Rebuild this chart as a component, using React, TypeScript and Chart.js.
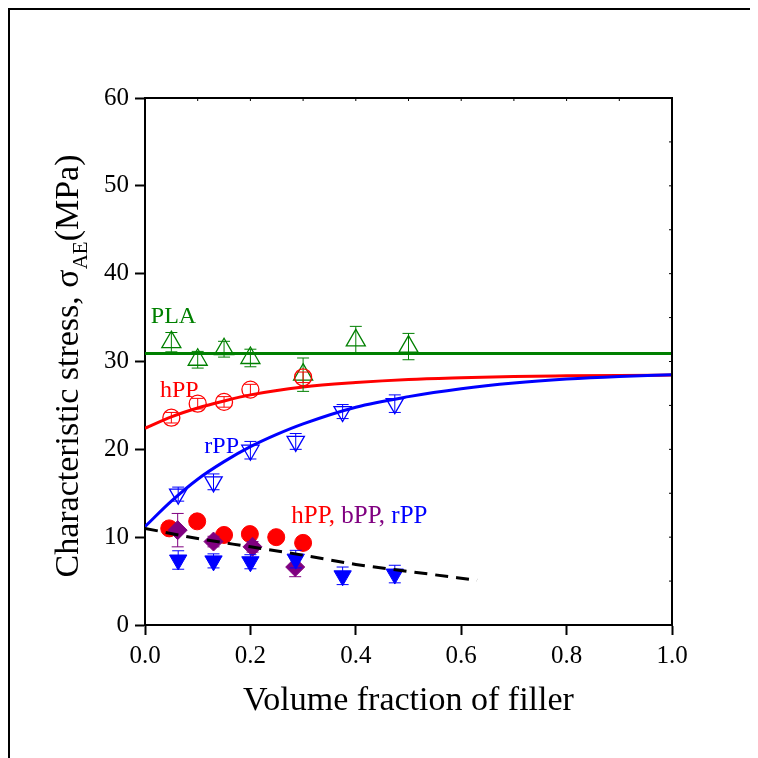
import React, { useEffect, useRef } from "react";
import { Chart, registerables } from "chart.js";
Chart.register(...registerables);

const FONT = "'Liberation Serif', 'Times New Roman', serif";

// PLA (open up-triangles)
const plaX = [0.05, 0.1, 0.15, 0.2, 0.3, 0.4, 0.5];
const plaY = [32.2, 30.2, 31.4, 30.4, 28.5, 32.4, 31.7];
const plaErr = [1.1, 0.95, 0.9, 1.0, 1.9, 1.6, 1.5];

// hPP (open circles)
const hppOpenX = [0.05, 0.1, 0.15, 0.2, 0.3];
const hppOpenY = [23.6, 25.2, 25.4, 26.8, 28.2];
const hppOpenErr = [0.6, 0.6, 0.6, 0.6, 0.6];

// rPP (open down-triangles)
const rppX = [0.063, 0.13, 0.2, 0.286, 0.375, 0.474];
const rppOpenY = [14.9, 16.3, 19.9, 20.9, 24.3, 25.2];
const rppOpenErr = [0.8, 0.9, 1.0, 0.9, 0.8, 1.0];

// filled series
const hppFillX = [0.046, 0.099, 0.15, 0.199, 0.249, 0.3];
const hppFillY = [11.0, 11.8, 10.25, 10.35, 10.0, 9.35];

const bppX = [0.062, 0.13, 0.204, 0.285];
const bppY = [10.8, 9.5, 8.9, 6.6];
const bppErr = [1.9, 0.6, 0.6, 1.1];

const rppFillY = [7.4, 7.3, 7.2, 7.5, 5.6, 5.8];
const rppFillErr = [1.05, 0.8, 0.8, 1.0, 1.0, 1.0];

// fitted curves
const plaFitX = [0, 1];
const plaFitY = [30.9, 30.9];

const hppFitX = [0, 0.05, 0.1, 0.15, 0.2, 0.3, 0.4, 0.5, 0.6, 0.7, 0.8, 0.9, 1.0];
const hppFitY = [22.4, 23.7, 24.7, 25.5, 26.2, 27.1, 27.6, 27.95, 28.15, 28.3, 28.37, 28.42, 28.45];

const rppFitX = [0, 0.05, 0.1, 0.15, 0.2, 0.25, 0.3, 0.4, 0.5, 0.6, 0.7, 0.8, 0.9, 1.0];
const rppFitY = [11.2, 14.1, 16.6, 18.6, 20.3, 21.7, 22.9, 24.8, 26.0, 26.9, 27.55, 28.0, 28.3, 28.5];

const dashX = [0, 0.1, 0.2, 0.3, 0.4, 0.5, 0.63];
const dashY = [11.0, 9.85, 8.9, 7.95, 6.9, 6.1, 5.1];

const xTicks = [0, 0.2, 0.4, 0.6, 0.8, 1.0];
const yTicks = [0, 10, 20, 30, 40, 50, 60];

const GREEN = "#008000";
const RED = "#ff0000";
const BLUE = "#0000ff";
const PURPLE = "#800080";

const pts = (xs: number[], ys: number[]) => xs.map((x, i) => ({ x, y: ys[i] }));

const errorBarPlugin = {
  id: "errbars",
  afterDatasetDraw(chart: any, args: any) {
    const ds: any = chart.data.datasets[args.index];
    if (!ds.errors) return;
    const ctx = chart.ctx;
    const ys = chart.scales.y;
    ctx.save();
    ctx.strokeStyle = ds.errColor;
    ctx.lineWidth = 1;
    args.meta.data.forEach((el: any, i: number) => {
      const e = ds.errors[i];
      if (!e) return;
      const v = ds.data[i].y;
      const x = el.x;
      const t = ys.getPixelForValue(v + e);
      const b = ys.getPixelForValue(v - e);
      ctx.beginPath();
      ctx.moveTo(x, t);
      ctx.lineTo(x, b);
      ctx.moveTo(x - 6, t);
      ctx.lineTo(x + 6, t);
      ctx.moveTo(x - 6, b);
      ctx.lineTo(x + 6, b);
      ctx.stroke();
    });
    ctx.restore();
  },
};

const framePlugin = {
  id: "frame",
  afterDraw(chart: any) {
    const { ctx, chartArea: a, scales } = chart;
    ctx.save();
    ctx.strokeStyle = "#000";
    ctx.lineWidth = 2;
    ctx.beginPath();
    ctx.moveTo(a.left - 1, a.top);
    ctx.lineTo(a.right, a.top);
    ctx.lineTo(a.right, a.bottom + 1);
    ctx.stroke();
    ctx.lineWidth = 1;
    ctx.beginPath();
    for (let i = 1; i < 10; i++) {
      const x = scales.x.getPixelForValue(i / 10);
      ctx.moveTo(x, a.top);
      ctx.lineTo(x, a.top + 3);
    }
    for (let v = 5; v < 60; v += 5) {
      const y = scales.y.getPixelForValue(v);
      ctx.moveTo(a.right, y);
      ctx.lineTo(a.right - 3, y);
    }
    ctx.stroke();

    // series labels
    const px = (v: number) => scales.x.getPixelForValue(v);
    const py = (v: number) => scales.y.getPixelForValue(v);
    ctx.font = `24px ${FONT}`;
    ctx.textBaseline = "alphabetic";
    ctx.textAlign = "left";
    ctx.fillStyle = GREEN;
    ctx.fillText("PLA", px(0.011), py(34.35));
    ctx.fillStyle = RED;
    ctx.fillText("hPP", px(0.0285), py(26.0));
    ctx.fillStyle = BLUE;
    ctx.fillText("rPP", px(0.1125), py(19.55));
    ctx.font = `25px ${FONT}`;
    let cx = px(0.2775);
    const cy = py(11.58);
    const parts: [string, string][] = [["hPP,", RED], [" bPP,", PURPLE], [" rPP", BLUE]];
    parts.forEach(([t, c]) => {
      ctx.fillStyle = c;
      ctx.fillText(t, cx, cy);
      cx += ctx.measureText(t).width;
    });

    // axis titles
    ctx.fillStyle = "#000";
    ctx.font = `34px ${FONT}`;
    ctx.textAlign = "center";
    ctx.fillText("Volume fraction of filler", (a.left + a.right) / 2, 700);

    ctx.save();
    const s1 = "Characteristic stress, \u03c3";
    const s2 = "AE";
    const s3 = "(MPa)";
    ctx.font = `34px ${FONT}`;
    const w1 = ctx.measureText(s1).width;
    const w3 = ctx.measureText(s3).width;
    ctx.font = `21px ${FONT}`;
    const w2 = ctx.measureText(s2).width;
    const total = w1 + w2 + w3;
    ctx.translate(68, 356 + total / 2);
    ctx.rotate(-Math.PI / 2);
    ctx.textAlign = "left";
    ctx.font = `34px ${FONT}`;
    ctx.fillText(s1, 0, 0);
    ctx.font = `21px ${FONT}`;
    ctx.fillText(s2, w1, 9);
    ctx.font = `34px ${FONT}`;
    ctx.fillText(s3, w1 + w2, 0);
    ctx.restore();

    ctx.restore();
  },
};

export default function App() {
  const ref = useRef<HTMLCanvasElement>(null);
  useEffect(() => {
    document.documentElement.style.overflow = "hidden";
    const lineDs = (xs: number[], ys: number[], color: string, order: number, extra: any = {}) => ({
      data: pts(xs, ys),
      showLine: true,
      borderColor: color,
      borderWidth: 3,
      pointRadius: 0,
      cubicInterpolationMode: "monotone",
      order,
      ...extra,
    });
    const markDs = (xs: number[], ys: number[], color: string, style: string, r: number, filled: boolean, order: number, extra: any = {}) => ({
      data: pts(xs, ys),
      showLine: false,
      pointStyle: style,
      pointRadius: r,
      pointBorderColor: color,
      pointBackgroundColor: filled ? color : "rgba(0,0,0,0)",
      pointBorderWidth: filled ? 1 : 1.3,
      order,
      ...extra,
    });
    const chart = new Chart(ref.current!, {
      type: "scatter",
      data: {
        datasets: [
          lineDs(dashX, dashY, "#000", 1, { borderDash: [13, 8] }),
          markDs(rppX, rppFillY, BLUE, "triangle", 10, true, 2, { pointRotation: 180, errors: rppFillErr, errColor: BLUE }),
          markDs(bppX, bppY, PURPLE, "rectRot", 9.5, true, 3, { errors: bppErr, errColor: PURPLE }),
          markDs(hppFillX, hppFillY, RED, "circle", 8.5, true, 4),
          markDs(rppX, rppOpenY, BLUE, "triangle", 10, false, 5, { pointRotation: 180, errors: rppOpenErr, errColor: BLUE }),
          markDs(hppOpenX, hppOpenY, RED, "circle", 8.5, false, 6, { errors: hppOpenErr, errColor: RED }),
          markDs(plaX, plaY, GREEN, "triangle", 11, false, 7, { errors: plaErr, errColor: GREEN }),
          lineDs(rppFitX, rppFitY, BLUE, 8),
          lineDs(hppFitX, hppFitY, RED, 9),
          lineDs(plaFitX, plaFitY, GREEN, 10),
        ] as any,
      },
      options: {
        responsive: false,
        animation: false,
        devicePixelRatio: 1,
        layout: { padding: { top: 88, right: 78, left: 0, bottom: 0 } },
        plugins: { legend: { display: false }, tooltip: { enabled: false } },
        scales: {
          x: {
            type: "linear",
            min: 0,
            max: 1,
            afterFit: (s: any) => { s.height = 125; },
            afterBuildTicks: (s: any) => { s.ticks = xTicks.map((v) => ({ value: v })); },
            ticks: {
              color: "#000",
              font: { family: FONT, size: 25 },
              padding: 6,
              maxRotation: 0,
              callback: (v: any) => Number(v).toFixed(1),
            },
            grid: { drawOnChartArea: false, tickLength: 10, tickColor: "#000", tickWidth: 2 },
            border: { color: "#000", width: 2 },
          },
          y: {
            type: "linear",
            min: 0,
            max: 60,
            afterFit: (s: any) => { s.width = 135; },
            afterBuildTicks: (s: any) => { s.ticks = yTicks.map((v) => ({ value: v })); },
            ticks: {
              color: "#000",
              font: { family: FONT, size: 25 },
              padding: 6,
              callback: (v: any) => String(v),
            },
            grid: { drawOnChartArea: false, tickLength: 10, tickColor: "#000", tickWidth: 2 },
            border: { color: "#000", width: 2 },
          },
        },
      },
      plugins: [errorBarPlugin, framePlugin],
    } as any);
    return () => chart.destroy();
  }, []);
  return (
    <div style={{ width: 750, height: 750, overflow: "hidden" }}>
      <div style={{ borderTop: "2px solid #000", borderLeft: "2px solid #000", width: 800, height: 800 }}>
        <canvas ref={ref} width={740} height={740} style={{ display: "block" }} />
      </div>
    </div>
  );
}
